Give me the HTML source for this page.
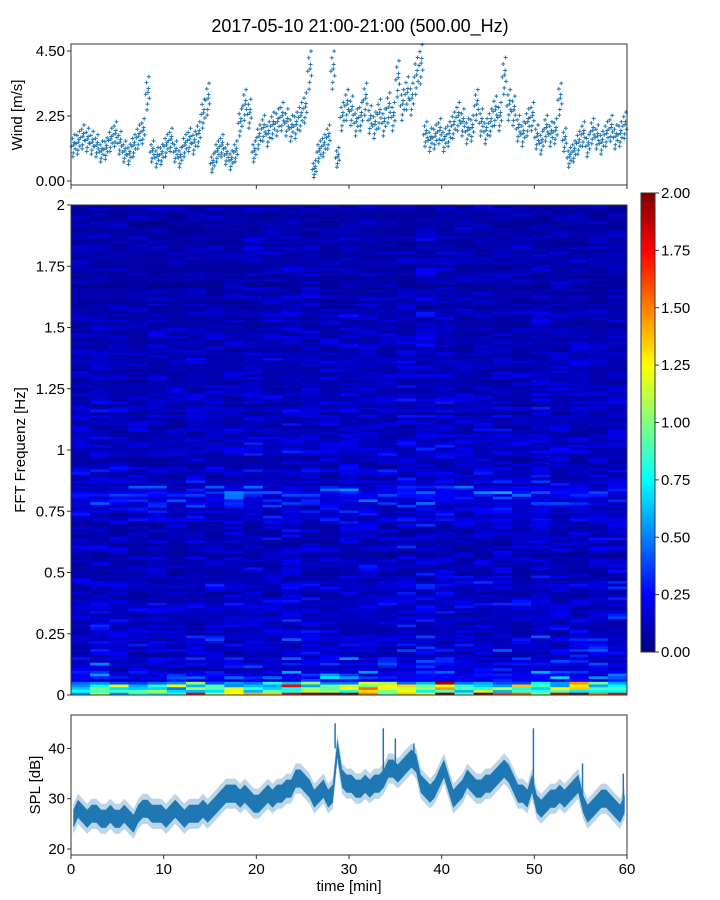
<!DOCTYPE html>
<html><head><meta charset="utf-8"><style>
body{margin:0;background:#fff;}
svg{display:block;font-family:"Liberation Sans","DejaVu Sans",sans-serif;}
</style></head><body>
<svg id="fig" width="720" height="900" viewBox="0 0 720 900">
<text x="360" y="32" text-anchor="middle" font-size="18">2017-05-10 21:00-21:00 (500.00_Hz)</text>
<g id="wind"></g>
<g id="spec"></g>
<g id="cbar"></g>
<g id="spl"></g>
<text x="22" y="115" transform="rotate(-90 22 115)" text-anchor="middle" font-size="15">Wind [m/s]</text>
<text x="25" y="450" transform="rotate(-90 25 450)" text-anchor="middle" font-size="15">FFT Frequenz [Hz]</text>
<text x="40" y="785" transform="rotate(-90 40 785)" text-anchor="middle" font-size="15">SPL [dB]</text>
<text x="349" y="891" text-anchor="middle" font-size="15">time [min]</text>
</svg>
<script>
// ---- data ----
const xTicks = [0,10,20,30,40,50,60];
const windTicks = [0, 2.25, 4.5];
const windTickLabels = ["0.00","2.25","4.50"];
const wind = [1.2,1.3,1.5,1.4,1.3,1.2,1.0,1.1,1.4,1.6,1.3,1.0,0.9,1.2,1.5,1.7,3.0,1.0,0.8,0.9,
1.2,1.4,1.0,0.8,1.2,1.4,1.3,1.6,2.3,2.8,0.6,1.0,1.2,0.9,0.7,1.0,2.0,2.6,2.3,1.0,
1.5,1.8,1.6,1.9,2.0,2.2,2.0,1.8,1.9,2.2,2.5,3.8,0.4,1.0,1.2,1.5,3.8,0.8,2.2,2.6,
2.4,2.0,2.2,2.8,2.1,1.9,2.3,2.0,2.5,2.2,3.5,2.6,3.0,2.8,3.6,4.0,1.6,1.4,1.5,1.7,
1.4,1.6,1.9,2.2,2.0,1.7,1.8,2.6,2.0,1.7,2.0,2.4,2.2,3.6,2.6,2.4,1.8,1.6,2.0,2.2,
1.5,1.3,1.8,1.6,1.7,2.8,1.4,0.8,1.0,1.3,1.6,1.2,1.7,1.5,1.3,1.6,1.8,1.5,1.6,1.9];
const splTicks = [20,30,40];
const spl = [26,28,27,26,27,27,26,26,27,26,26,27,26,25,27,28,28,27,27,27,
26,27,28,27,26,27,27,27,28,27,28,29,30,31,31,31,30,31,30,29,
29,30,31,30,31,31,32,32,34,34,33,32,30,31,32,30,31,40,34,33,
33,32,32,33,32,33,33,34,36,36,35,36,37,38,37,33,32,31,32,34,
36,33,30,31,32,34,33,32,32,33,33,34,35,36,35,33,31,31,30,33,
29,28,29,30,30,31,30,31,32,33,29,27,28,29,30,30,29,28,27,29];
const splSpikeTimes = [28.5, 33.7, 35.0, 37.0, 49.9, 55.2, 59.6];
const splSpikeValues = [45, 44, 42, 41, 44, 37, 35];
const freqTicks = [0,0.25,0.5,0.75,1,1.25,1.5,1.75,2];
const freqTickLabels = ["0","0.25","0.5","0.75","1","1.25","1.5","1.75","2"];
// mean spectral level per 0.05 Hz band (40 bands, 0 -> 2 Hz)
const freqProfile = [1.0,0.4,0.28,0.24,0.22,0.2,0.19,0.19,0.18,0.17,0.17,0.17,0.17,0.18,0.2,0.27,0.32,0.21,0.19,0.18,
0.17,0.16,0.16,0.16,0.15,0.15,0.15,0.15,0.15,0.14,0.14,0.14,0.14,0.13,0.13,0.13,0.13,0.13,0.12,0.12];
// time modulation per column (29 columns)
const timeProfile = [1.0,1.05,1.0,0.95,1.0,1.0,1.05,1.1,1.05,1.15,1.1,1.2,1.15,1.1,1.2,1.15,1.1,1.2,1.25,1.2,1.1,1.15,1.1,1.05,1.2,1.1,1.05,1.1,1.1];
// lowest band level per column
const lowBand = [0.9,1.1,0.9,1.0,1.2,1.0,1.3,1.2,1.4,1.3,1.3,1.5,1.5,1.6,1.7,1.8,1.5,1.7,1.6,1.5,1.4,1.6,1.4,1.5,1.4,1.9,1.6,1.4,1.3];
const cbarTicks = [0,0.25,0.5,0.75,1,1.25,1.5,1.75,2];

// ---- helpers ----
const NS="http://www.w3.org/2000/svg";
function mk(tag, attrs, parent){const e=document.createElementNS(NS,tag);for(const k in attrs)e.setAttribute(k,attrs[k]);parent.appendChild(e);return e;}
const X0=71,X1=627;
const xs = t => X0 + t/60*(X1-X0);
function jet(v){v=Math.max(0,Math.min(1,v));
 const r=Math.max(0,Math.min(1,1.5-Math.abs(4*v-3)));
 const g=Math.max(0,Math.min(1,1.5-Math.abs(4*v-2)));
 const b=Math.max(0,Math.min(1,1.5-Math.abs(4*v-1)));
 return `rgb(${Math.round(r*255)},${Math.round(g*255)},${Math.round(b*255)})`;}
function hash(i,j){let h=(i*374761393+j*668265263)|0;h=(h^(h>>>13))*1274126177|0;return ((h^(h>>>16))>>>0)/4294967295;}

// ---- wind panel ----
const W=document.getElementById('wind');
const wy = v => 181 - v*(181-51)/4.5;
const jit=[[-0.2,0],[-0.1,0.3],[0,-0.25],[0.1,0.15],[0.2,-0.1],[-0.05,-0.4],[0.15,0.45],[0.05,0.05]];
wind.forEach((v,i)=>{
  jit.forEach((o,k)=>{
    const t=i*0.5+0.25+o[0];
    const x=xs(t), y=wy(Math.max(0.1,v+o[1]*(0.6+v*0.25)));
    const p=mk('path',{d:`M${x-2},${y}h4M${x},${y-2}v4`,stroke:'#1f77b4','stroke-width':1},W);
    
    
  });
});
mk('rect',{x:X0,y:44,width:X1-X0,height:141,fill:'none',stroke:'#333','stroke-width':1},W);
windTicks.forEach((v,i)=>{const y=wy(v);mk('line',{x1:X0-4,x2:X0,y1:y,y2:y,stroke:'#333'},W);
 const t=mk('text',{x:X0-6,y:y+5,'text-anchor':'end','font-size':15},W);t.textContent=windTickLabels[i];
 });
xTicks.forEach(v=>{mk('line',{x1:xs(v),x2:xs(v),y1:185,y2:189,stroke:'#333'},W);});

// ---- spectrogram ----
const S=document.getElementById('spec');
const SY0=695,SY1=205;
const fy = f => SY0 - f/2*(SY0-SY1);
const nRows=180, nCols=timeProfile.length;
const cw=(X1-X0)/nCols, rh=(SY0-SY1)/nRows;
for(let c=0;c<nCols;c++){
  for(let r=0;r<nRows;r++){
    const band=Math.floor(r/(nRows/freqProfile.length));
    let v;
    if(r<3){ v=lowBand[c]*(0.6+0.8*hash(c,r)) * (r===0?1:0.7); }
    else { v=freqProfile[band]*timeProfile[c]*(0.2+1.3*hash(c,r)*hash(r,c+7)+0.35*hash(r,99)); }
    const rc=mk('rect',{x:(X0+c*cw).toFixed(2),y:(SY0-(r+1)*rh).toFixed(2),width:(cw+0.4).toFixed(2),height:(rh+0.4).toFixed(2),fill:jet(v/2)},S);
    
    
  }
}
mk('rect',{x:X0,y:SY1,width:X1-X0,height:SY0-SY1,fill:'none',stroke:'#333'},S);
freqTicks.forEach((v,i)=>{const y=fy(v);mk('line',{x1:X0-4,x2:X0,y1:y,y2:y,stroke:'#333'},S);
 const t=mk('text',{x:X0-6,y:y+5,'text-anchor':'end','font-size':15},S);t.textContent=freqTickLabels[i];
 });

// ---- colorbar ----
const C=document.getElementById('cbar');
const CY0=652,CY1=193;
const cy = v => CY0-(v/2)*(CY0-CY1);
for(let i=0;i<200;i++){mk('rect',{x:641,y:(CY0-(i+1)*(CY0-CY1)/200).toFixed(2),width:14,height:((CY0-CY1)/200+0.5).toFixed(2),fill:jet((i+0.5)/200)},C);}
mk('rect',{x:641,y:CY1,width:14,height:CY0-CY1,fill:'none',stroke:'#333'},C);
cbarTicks.forEach(v=>{const y=cy(v);mk('line',{x1:655,x2:659,y1:y,y2:y,stroke:'#333'},C);
 const t=mk('text',{x:661,y:y+5,'font-size':15},C);t.textContent=v.toFixed(2);
 });

// ---- SPL panel ----
const P=document.getElementById('spl');
const sy = v => 849-(v-20)*5.03;
let up='',dn='';
spl.forEach((v,i)=>{const x=xs(i*0.5+0.25);up+=(i?'L':'M')+x.toFixed(1)+','+sy(v+3).toFixed(1);});
for(let i=spl.length-1;i>=0;i--){dn+='L'+xs(i*0.5+0.25).toFixed(1)+','+sy(spl[i]-3).toFixed(1);}
const band=mk('path',{d:up+dn+'Z',fill:'#1f77b4','fill-opacity':0.3},P);

let inner='',inner2='';
spl.forEach((v,i)=>{const x=xs(i*0.5+0.25);inner+=(i?'L':'M')+x.toFixed(1)+','+sy(v+1.8).toFixed(1);});
for(let i=spl.length-1;i>=0;i--){inner2+='L'+xs(i*0.5+0.25).toFixed(1)+','+sy(spl[i]-1.8).toFixed(1);}
const core=mk('path',{d:inner+inner2+'Z',fill:'#1f77b4'},P);

splSpikeTimes.forEach((t,i)=>{
  const ln=mk('line',{x1:xs(t),x2:xs(t),y1:sy(spl[Math.min(spl.length-1,Math.round(t*2-0.5))]),y2:sy(splSpikeValues[i]),stroke:'#1f77b4','stroke-width':1.5},P);
  
});
mk('rect',{x:X0,y:715,width:X1-X0,height:140,fill:'none',stroke:'#333'},P);
splTicks.forEach(v=>{const y=sy(v);mk('line',{x1:X0-4,x2:X0,y1:y,y2:y,stroke:'#333'},P);
 const t=mk('text',{x:X0-6,y:y+5,'text-anchor':'end','font-size':15},P);t.textContent=v;
 });
xTicks.forEach(v=>{mk('line',{x1:xs(v),x2:xs(v),y1:855,y2:859,stroke:'#333'},P);
 const t=mk('text',{x:xs(v),y:874,'text-anchor':'middle','font-size':15},P);t.textContent=v;
 });
</script>
</body></html>
